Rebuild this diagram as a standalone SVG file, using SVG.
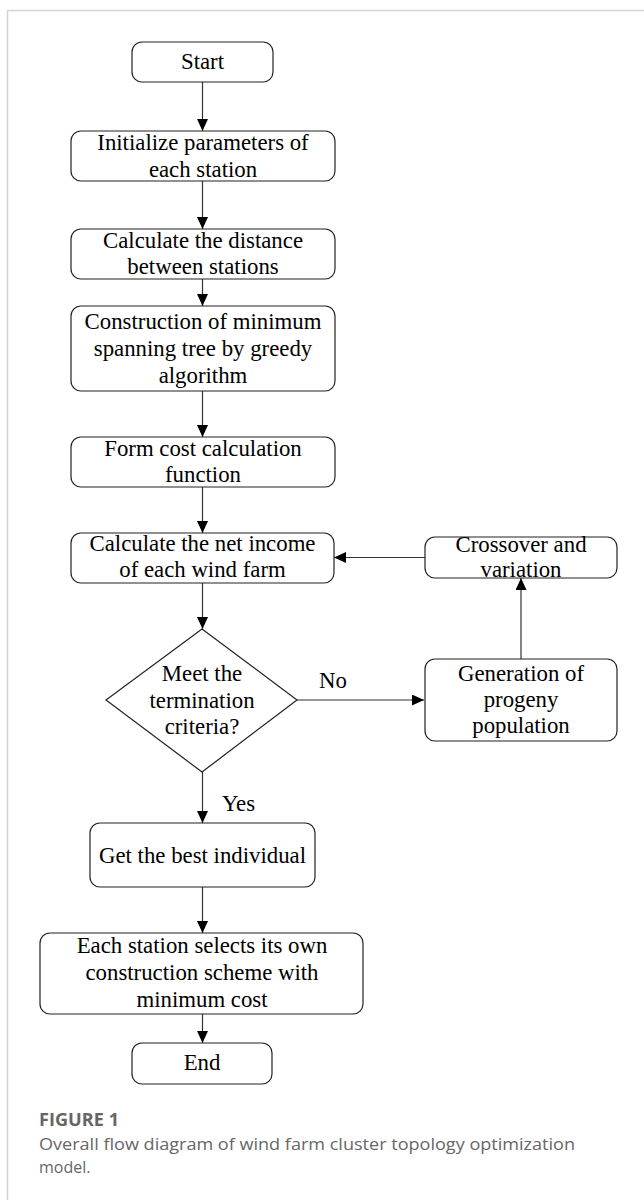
<svg xmlns="http://www.w3.org/2000/svg" width="644" height="1200" viewBox="0 0 644 1200">
<defs>
<marker id="ah" markerUnits="userSpaceOnUse" markerWidth="12" markerHeight="11" refX="12" refY="5.5" orient="auto">
<path d="M0,0 L12,5.5 L0,11 z" fill="#000"/>
</marker>
<style>
.box{fill:#fff;stroke:#222;stroke-width:1.2}
.t{font-family:"Liberation Serif","Times New Roman",serif;font-size:22.8px;fill:#000;text-anchor:middle}
.c{stroke:#333;stroke-width:1.2;fill:none;marker-end:url(#ah)}
.cap{font-family:"Open Sans","Noto Sans",sans-serif;fill:#666}
</style>
</defs>
<rect width="644" height="1200" fill="#fff"/>
<g id="frame" stroke="#d4d4d4" stroke-width="1.5" fill="none">
<line x1="7" y1="10.5" x2="644" y2="10.5"/>
<line x1="7.5" y1="10" x2="7.5" y2="1200"/>
</g>
<g id="connectors">
<line class="c" x1="202.5" y1="82" x2="202.5" y2="131"/>
<line class="c" x1="202.5" y1="181" x2="202.5" y2="229"/>
<line class="c" x1="202.5" y1="279" x2="202.5" y2="306"/>
<line class="c" x1="202.5" y1="391" x2="202.5" y2="437"/>
<line class="c" x1="202.5" y1="487" x2="202.5" y2="533"/>
<line class="c" x1="202.5" y1="583" x2="202.5" y2="629"/>
<line class="c" x1="425" y1="557.5" x2="334" y2="557.5"/>
<line class="c" x1="521" y1="659" x2="521" y2="578"/>
<line class="c" x1="297" y1="700" x2="424" y2="700"/>
<line class="c" x1="202.5" y1="772" x2="202.5" y2="823"/>
<line class="c" x1="202.5" y1="887" x2="202.5" y2="933"/>
<line class="c" x1="202.5" y1="1014" x2="202.5" y2="1043"/>
<text class="t" x="333" y="688">No</text>
<text class="t" x="238.5" y="811">Yes</text>
</g>
<g id="start">
<rect class="box" x="132" y="42" width="141" height="40" rx="10"/>
<text class="t" x="202.5" y="69">Start</text>
</g>
<g id="init">
<rect class="box" x="71" y="131" width="264" height="50" rx="10"/>
<text class="t" x="203" y="150">Initialize parameters of</text>
<text class="t" x="203" y="177">each station</text>
</g>
<g id="distance">
<rect class="box" x="71" y="229" width="264" height="50" rx="10"/>
<text class="t" x="203" y="248">Calculate the distance</text>
<text class="t" x="203" y="274">between stations</text>
</g>
<g id="mst">
<rect class="box" x="71" y="306" width="264" height="85" rx="10"/>
<text class="t" x="203" y="329">Construction of minimum</text>
<text class="t" x="203" y="356">spanning tree by greedy</text>
<text class="t" x="203" y="383">algorithm</text>
</g>
<g id="cost">
<rect class="box" x="71" y="437" width="264" height="50" rx="10"/>
<text class="t" x="203" y="456">Form cost calculation</text>
<text class="t" x="203" y="482">function</text>
</g>
<g id="income">
<rect class="box" x="71" y="533" width="263" height="50" rx="10"/>
<text class="t" x="202.5" y="551">Calculate the net income</text>
<text class="t" x="202.5" y="577">of each wind farm</text>
</g>
<g id="crossover">
<rect class="box" x="425" y="537" width="192" height="41" rx="10"/>
<text class="t" x="521" y="552">Crossover and</text>
<text class="t" x="521" y="577">variation</text>
</g>
<g id="decision">
<polygon class="box" points="202,629 297,700 202,772 106,700"/>
<text class="t" x="202" y="681">Meet the</text>
<text class="t" x="202" y="707.5">termination</text>
<text class="t" x="202" y="734">criteria?</text>
</g>
<g id="progeny">
<rect class="box" x="425" y="659" width="192" height="82" rx="10"/>
<text class="t" x="521" y="681">Generation of</text>
<text class="t" x="521" y="707">progeny</text>
<text class="t" x="521" y="733">population</text>
</g>
<g id="best">
<rect class="box" x="90" y="823" width="225" height="64" rx="10"/>
<text class="t" x="202.5" y="863">Get the best individual</text>
</g>
<g id="select">
<rect class="box" x="40" y="933" width="323" height="81" rx="10"/>
<text class="t" x="202" y="953">Each station selects its own</text>
<text class="t" x="202" y="980">construction scheme with</text>
<text class="t" x="202" y="1007">minimum cost</text>
</g>
<g id="end">
<rect class="box" x="132" y="1043" width="140" height="41" rx="10"/>
<text class="t" x="202" y="1070">End</text>
</g>
<g id="caption">
<text class="cap" x="39" y="1126" font-size="17" font-weight="700" fill="#5f5f5f" textLength="80" lengthAdjust="spacingAndGlyphs">FIGURE 1</text>
<text class="cap" x="39" y="1150" font-size="16" textLength="536" lengthAdjust="spacingAndGlyphs">Overall flow diagram of wind farm cluster topology optimization</text>
<text class="cap" x="39" y="1173" font-size="16">model.</text>
</g>
</svg>
